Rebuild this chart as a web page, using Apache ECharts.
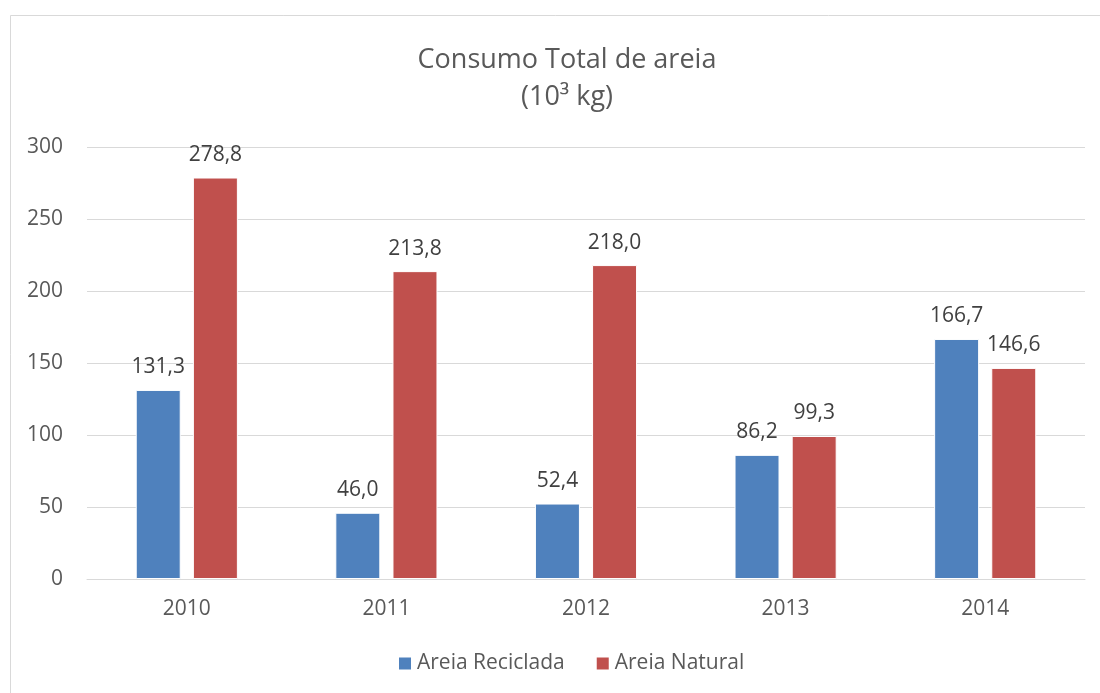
<!DOCTYPE html>
<html>
<head>
<meta charset="utf-8">
<script src="https://cdn.jsdelivr.net/npm/echarts@6/dist/echarts.min.js"></script>
<style>
  html, body { margin: 0; padding: 0; background: #fff; }
  #chart { width: 1100px; height: 693px; }
</style>
</head>
<body>
<div id="chart"></div>
<script>
// Sand consumption per year (10³ kg)
const years = ['2010', '2011', '2012', '2013', '2014'];
const recycled = [131.3, 46.0, 52.4, 86.2, 166.7];
const natural = [278.8, 213.8, 218.0, 99.3, 146.6];
const seriesNames = ['Areia Reciclada', 'Areia Natural'];
const titleLines = ['Consumo Total de areia', '(10³ kg)'];

const FONT = '"Open Sans", "Noto Sans", sans-serif';
const fmt = v => v.toFixed(1).replace('.', ',');

const chart = echarts.init(document.getElementById('chart'), null, { renderer: 'canvas' });

const labelStyle = {
  show: true,
  position: 'top',
  distance: 12,
  color: '#404040',
  fontSize: 21,
  fontFamily: FONT,
  formatter: p => fmt(p.value)
};

chart.setOption({
  animation: false,
  backgroundColor: '#fff',
  graphic: [{
    type: 'rect',
    shape: { x: 10.5, y: 15.5, width: 1110, height: 700 },
    style: { fill: 'none', stroke: '#d9d9d9', lineWidth: 1 },
    silent: true
  }],
  title: {
    text: titleLines.join('\n'),
    left: 562,
    textAlign: 'center',
    top: 37,
    textStyle: {
      color: '#595959',
      fontSize: 27,
      fontWeight: 'normal',
      fontFamily: FONT,
      lineHeight: 37
    }
  },
  legend: {
    data: seriesNames,
    bottom: 14,
    left: 392,
    itemWidth: 14,
    itemHeight: 14,
    itemGap: 30,
    icon: 'rect',
    textStyle: { color: '#595959', fontSize: 21, fontFamily: FONT }
  },
  grid: { left: 87, right: 15, top: 147, bottom: 114, containLabel: false },
  xAxis: {
    type: 'category',
    data: years,
    axisLine: { show: true, lineStyle: { color: '#d9d9d9', width: 1 } },
    axisTick: { show: false },
    axisLabel: { color: '#595959', fontSize: 21, fontFamily: FONT, margin: 20 }
  },
  yAxis: {
    type: 'value',
    min: 0,
    max: 300,
    interval: 50,
    axisLine: { show: false },
    axisTick: { show: false },
    splitLine: { lineStyle: { color: '#d9d9d9', width: 1 } },
    axisLabel: { color: '#595959', fontSize: 21, fontFamily: FONT, margin: 24 }
  },
  series: [
    {
      name: seriesNames[0],
      type: 'bar',
      data: recycled,
      barWidth: 45,
      barGap: '27%',
      itemStyle: { color: '#4F81BD', borderColor: '#ffffff', borderWidth: 1 },
      label: labelStyle
    },
    {
      name: seriesNames[1],
      type: 'bar',
      data: natural,
      barWidth: 45,
      barGap: '27%',
      itemStyle: { color: '#C0504D', borderColor: '#ffffff', borderWidth: 1 },
      label: labelStyle
    }
  ]
});
</script>
</body>
</html>
